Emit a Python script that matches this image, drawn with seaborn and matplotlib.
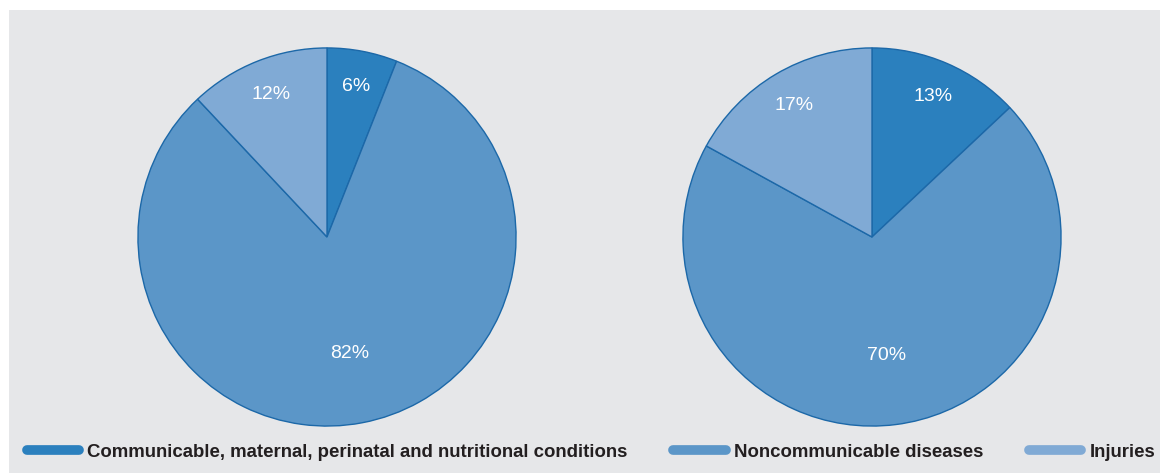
import matplotlib
matplotlib.use("Agg")
import matplotlib.pyplot as plt
from matplotlib.lines import Line2D
from matplotlib.patches import Rectangle
import numpy as np
import seaborn as sns

# Share of deaths by broad cause group, two populations
categories = [
    "Communicable, maternal, perinatal and nutritional conditions",
    "Noncommunicable diseases",
    "Injuries",
]
left_values = [6, 82, 12]
right_values = [13, 70, 17]

palette = ["#2b80be", "#5b96c8", "#80aad5"]
edge_color = "#1c68a8"
panel_color = "#e6e7e9"

sns.set_theme(style="white")
plt.rcParams["font.family"] = ["Liberation Sans", "DejaVu Sans"]

W, H = 1160, 475
fig = plt.figure(figsize=(W / 100, H / 100), dpi=100)
fig.patch.set_facecolor("white")
fig.patches.append(Rectangle((9 / W, 2 / H), 1 - 9 / W, (465 - 2) / H,
                             transform=fig.transFigure, facecolor=panel_color,
                             edgecolor="none", zorder=-10))


def draw_pie(cx, cy, r, values):
    ax = fig.add_axes([(cx - r) / W, (H - cy - r) / H, 2 * r / W, 2 * r / H])
    ax.set_facecolor("none")
    wedges, _ = ax.pie(values, colors=palette, startangle=90, counterclock=False,
                       radius=1.0,
                       wedgeprops=dict(edgecolor=edge_color, linewidth=1.0))
    total = sum(values)
    for w, v in zip(wedges, values):
        mid = np.deg2rad((w.theta1 + w.theta2) / 2)
        d = 0.63 if v / total > 0.5 else 0.81
        ax.text(d * np.cos(mid), d * np.sin(mid), f"{v}%", color="white",
                ha="center", va="center", fontsize=14)
    ax.set_xlim(-1.005, 1.005)
    ax.set_ylim(-1.005, 1.005)
    ax.set_aspect("equal")
    ax.axis("off")
    return ax


draw_pie(327, 237, 190, left_values)
draw_pie(872, 237, 190, right_values)

handles = [Line2D([0], [0], color=c, linewidth=7, solid_capstyle="round")
           for c in palette]
fig.legend(handles, categories, loc="center left",
           bbox_to_anchor=(27 / W, (H - 452) / H), ncol=3, frameon=False,
           borderpad=0, borderaxespad=0, handlelength=2.8, handletextpad=0.45,
           columnspacing=2.45, prop=dict(size=13.4, weight="bold"),
           labelcolor="#231f20")

fig.savefig("out.png", dpi=100, facecolor="white")
